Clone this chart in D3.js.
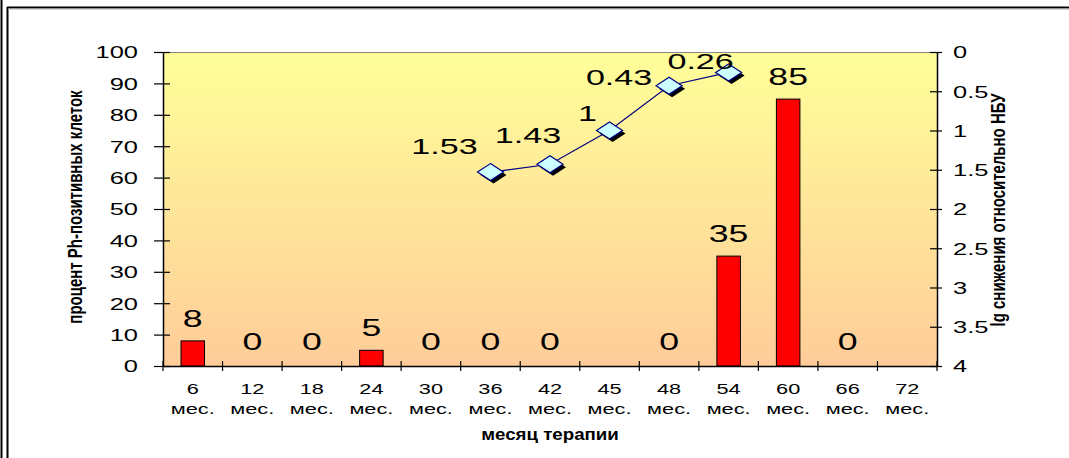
<!DOCTYPE html>
<html><head><meta charset="utf-8">
<script src="https://cdn.jsdelivr.net/npm/d3@7"></script>
<style>html,body{margin:0;padding:0;background:#fff;}svg{display:block;font-family:"Liberation Sans",Arial,sans-serif;}</style>
</head><body>
<svg id="chart" width="1069" height="458"></svg>
<script>
// ---- data ----
const months = ["6","12","18","24","30","36","42","45","48","54","60","66","72"];
const monthUnit = "мес.";
const barValues = [8, 0, 0, 5, 0, 0, 0, null, 0, 35, 85, 0, null];
const lineMonths = ["36","42","45","48","54"];
const lineValues = [1.53, 1.43, 1, 0.43, 0.26];
const leftTicks = [0,10,20,30,40,50,60,70,80,90,100];
const rightTicks = [0,0.5,1,1.5,2,2.5,3,3.5,4];
const leftTitle = "процент Ph-позитивных клеток";
const rightTitle = "lg снижения относительно НБУ";
const xTitle = "месяц терапии";

// ---- layout ----
const svg = d3.select("#chart");
const L = 163, R = 937, T = 52, B = 366;
const SX = 1.5; // horizontal text stretch
const x = d3.scaleBand().domain(months).range([L, R]).paddingInner(0).paddingOuter(0);
const yL = d3.scaleLinear().domain([0, 100]).range([B, T]);
const yR = d3.scaleLinear().domain([0, 4]).range([T, B]);

// frame
svg.append("line").attr("x1",1.5).attr("x2",1.5).attr("y1",0).attr("y2",458).attr("stroke","#000").attr("stroke-width",2);
svg.append("line").attr("x1",7.5).attr("x2",7.5).attr("y1",7).attr("y2",458).attr("stroke","#000").attr("stroke-width",2);
svg.append("line").attr("x1",7).attr("x2",1069).attr("y1",7.5).attr("y2",7.5).attr("stroke","#000").attr("stroke-width",2);
svg.append("line").attr("x1",8).attr("x2",1069).attr("y1",9).attr("y2",9).attr("stroke","#aaa").attr("stroke-width",1);

// background gradient
const defs = svg.append("defs");
const grad = defs.append("linearGradient").attr("id","bg").attr("x1",0).attr("y1",0).attr("x2",0).attr("y2",1);
grad.append("stop").attr("offset","0%").attr("stop-color","#FFFF99");
grad.append("stop").attr("offset","100%").attr("stop-color","#FFCC99");
svg.append("rect").attr("x",L).attr("y",T).attr("width",R-L).attr("height",B-T).attr("fill","url(#bg)");
svg.append("line").attr("x1",L).attr("x2",R).attr("y1",T+0.5).attr("y2",T+0.5).attr("stroke","#888").attr("stroke-width",1);

// bars
const barW = 23.5;
const bars = months.map((m,i)=>({m, v: barValues[i]})).filter(d=>d.v!==null);
svg.append("g").selectAll("rect").data(bars.filter(d=>d.v>0)).join("rect")
  .attr("x", d=>x(d.m)+x.bandwidth()/2-barW/2)
  .attr("y", d=>yL(d.v))
  .attr("width", barW)
  .attr("height", d=>yL(0)-yL(d.v))
  .attr("fill","#FF0000").attr("stroke","#000").attr("stroke-width",1);

// left axis
const gL = svg.append("g").attr("transform",`translate(${L},0)`)
  .call(d3.axisLeft(yL).tickValues(leftTicks).tickSize(0).tickPadding(0));
gL.select(".domain").attr("stroke","#000").attr("stroke-width",1.5);
gL.selectAll(".tick line").attr("x1",-9).attr("x2",7).attr("stroke","#000").attr("stroke-width",1.2);
gL.selectAll(".tick text").attr("x",0).attr("dy","0.35em")
  .attr("transform",`translate(-25,0) scale(${SX},1)`)
  .attr("font-size",17).attr("fill","#000").attr("font-family","Liberation Sans, Arial, sans-serif");

// right axis
const gR = svg.append("g").attr("transform",`translate(${R},0)`)
  .call(d3.axisRight(yR).tickValues(rightTicks).tickSize(0).tickPadding(0).tickFormat(d=>String(d)));
gR.select(".domain").attr("stroke","#000").attr("stroke-width",1.5);
gR.selectAll(".tick line").attr("x1",-7).attr("x2",5).attr("stroke","#000").attr("stroke-width",1.2);
gR.selectAll(".tick text").attr("x",0).attr("dy","0.35em")
  .attr("transform",`translate(16,0) scale(${SX},1)`)
  .attr("font-size",17).attr("fill","#000").attr("font-family","Liberation Sans, Arial, sans-serif");

// bottom axis
const gB = svg.append("g").attr("transform",`translate(0,${B})`)
  .call(d3.axisBottom(x).tickSize(0).tickFormat(""));
gB.select(".domain").attr("stroke","#000").attr("stroke-width",1.5);
gB.selectAll(".tick line").remove();
gB.selectAll(".tick text").remove();
const bounds = months.map(m=>x(m)).concat([R]);
gB.selectAll("line.bt").data(bounds).join("line").attr("class","bt")
  .attr("x1",d=>d).attr("x2",d=>d).attr("y1",-5).attr("y2",5).attr("stroke","#000").attr("stroke-width",1.2);
const xl = gB.selectAll("g.xl").data(months).join("g").attr("class","xl")
  .attr("transform",d=>`translate(${x(d)+x.bandwidth()/2},0)`);
xl.append("text").attr("text-anchor","middle").attr("transform",`translate(0,28) scale(1.45,1)`)
  .attr("font-size",15).attr("fill","#000").attr("font-family","Liberation Sans, Arial, sans-serif").text(d=>d);
xl.append("text").attr("text-anchor","middle").attr("transform",`translate(0,48) scale(1.45,1)`)
  .attr("font-size",15).attr("fill","#000").attr("font-family","Liberation Sans, Arial, sans-serif").text(monthUnit);

// bar labels
svg.append("g").selectAll("text").data(bars).join("text")
  .attr("text-anchor","middle")
  .attr("transform",d=>`translate(${x(d.m)+x.bandwidth()/2},${yL(d.v)-(d.v>0?14:16)}) scale(1.55,1)`)
  .attr("font-size",23).attr("fill","#000").text(d=>d.v);

// line series
const pts = lineMonths.map((m,i)=>({m, v: lineValues[i], x: x(m)+x.bandwidth()/2, y: yR(lineValues[i])}));
svg.append("path").datum(pts)
  .attr("d", d3.line().x(d=>d.x).y(d=>d.y))
  .attr("fill","none").attr("stroke","#000080").attr("stroke-width",1.2);
const hw = 13, hh = 8.5;
const diamond = `M0,${-hh}L${hw},0L0,${hh}L${-hw},0Z`;
const mk = svg.append("g").selectAll("g").data(pts).join("g").attr("transform",d=>`translate(${d.x},${d.y})`);
mk.append("path").attr("d",diamond).attr("transform","translate(3,3)").attr("fill","#000");
mk.append("path").attr("d",diamond).attr("fill","#CCFFFF").attr("stroke","#000080").attr("stroke-width",1.2);

// line labels (manually nudged like the original)
const lineLabelNudge = [[-46,-18],[-22,-21],[-22,-10],[-50,-1],[-28,-3]];
svg.append("g").selectAll("text").data(pts).join("text")
  .attr("text-anchor","middle")
  .attr("transform",(d,i)=>`translate(${d.x+lineLabelNudge[i][0]},${d.y+lineLabelNudge[i][1]}) scale(1.55,1)`)
  .attr("font-size",22).attr("fill","#000").text(d=>String(d.v));

// axis titles
svg.append("text").attr("text-anchor","middle")
  .attr("transform",`translate(82,207) rotate(-90) scale(1,1.3)`)
  .attr("font-size",15).attr("font-weight","bold").text(leftTitle);
svg.append("text").attr("text-anchor","middle")
  .attr("transform",`translate(1005,210) rotate(-90) scale(1,1.3)`)
  .attr("font-size",15).attr("font-weight","bold").text(rightTitle);
svg.append("text").attr("text-anchor","middle")
  .attr("transform",`translate(${(L+R)/2},440) scale(1.1,1)`)
  .attr("font-size",17).attr("font-weight","bold").text(xTitle);
</script>
</body></html>
